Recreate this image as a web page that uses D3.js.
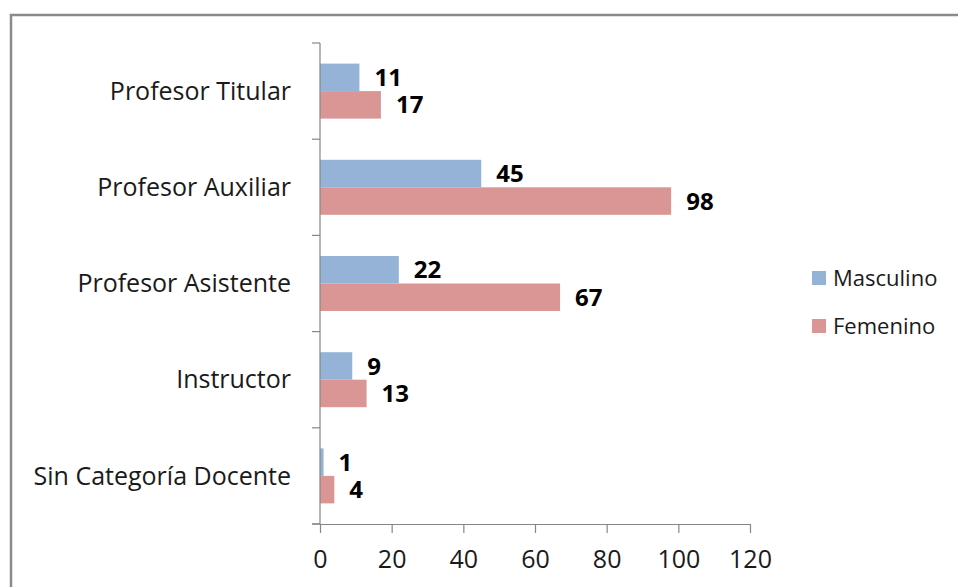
<!DOCTYPE html>
<html lang="es">
<head>
  <meta charset="UTF-8" />
  <title>Categoría docente por sexo</title>
  <script src="https://d3js.org/d3.v7.min.js"></script>
  <style>
    html, body {
      margin: 0;
      padding: 0;
      background: white;
      overflow: hidden;
      width: 958px;
      height: 587px;
    }
    svg { display: block; }
    text { font-family: "Open Sans", sans-serif; fill: #1a1a1a; }
  </style>
</head>
<body>
  <svg id="chart" width="958" height="587"></svg>

  <script>
    // data (top category first, as in the picture)
    const categories = ["Profesor Titular", "Profesor Auxiliar", "Profesor Asistente", "Instructor", "Sin Categoría Docente"];
    const masculino = [11, 45, 22, 9, 1];
    const femenino = [17, 98, 67, 13, 4];
    const seriesNames = ["Masculino", "Femenino"];
    const xTicks = [0, 20, 40, 60, 80, 100, 120];

    const colors = ["#95b3d7", "#d99694"];

    const svg = d3.select("#chart");

    // outer frame
    svg.append("rect")
      .attr("x", 11).attr("y", 15)
      .attr("width", 1000).attr("height", 700)
      .attr("fill", "white")
      .attr("stroke", "#8a8a8a")
      .attr("stroke-width", 2.5);

    const plotLeft = 320, plotRight = 750, plotTop = 43, plotBottom = 524;

    const x = d3.scaleLinear().domain([0, 120]).range([plotLeft, plotRight]);
    const y = d3.scaleBand().domain(categories).range([plotTop, plotBottom]);
    const inner = d3.scaleBand().domain(seriesNames)
      .range([y.bandwidth() / 2 - 27.5, y.bandwidth() / 2 + 27.5]);

    const rows = categories.map((c, i) => ({ cat: c, values: [masculino[i], femenino[i]] }));

    const g = svg.selectAll("g.cat")
      .data(rows)
      .enter().append("g")
      .attr("class", "cat")
      .attr("transform", d => `translate(0, ${y(d.cat)})`);

    g.selectAll("rect")
      .data(d => d.values.map((v, j) => ({ v, s: seriesNames[j], j })))
      .enter().append("rect")
      .attr("x", x(0))
      .attr("y", d => inner(d.s))
      .attr("width", d => x(d.v) - x(0))
      .attr("height", inner.bandwidth())
      .attr("fill", d => colors[d.j]);

    g.selectAll("text.value")
      .data(d => d.values.map((v, j) => ({ v, s: seriesNames[j], j })))
      .enter().append("text")
      .attr("class", "value")
      .attr("x", d => x(d.v) + 15)
      .attr("y", d => inner(d.s) + inner.bandwidth() / 2)
      .attr("dy", "0.36em")
      .style("font-size", "24px")
      .style("font-weight", "bold")
      .style("fill", "#000")
      .text(d => d.v);

    // y axis
    const yAxis = svg.append("g");
    yAxis.append("line")
      .attr("x1", plotLeft).attr("x2", plotLeft)
      .attr("y1", plotTop).attr("y2", plotBottom)
      .attr("stroke", "#868686").attr("stroke-width", 1.2);
    yAxis.selectAll("line.tick")
      .data(categories.concat([null]))
      .enter().append("line")
      .attr("class", "tick")
      .attr("x1", plotLeft - 8).attr("x2", plotLeft)
      .attr("y1", (d, i) => plotTop + i * y.step())
      .attr("y2", (d, i) => plotTop + i * y.step())
      .attr("stroke", "#868686").attr("stroke-width", 1.2);
    yAxis.selectAll("text")
      .data(categories)
      .enter().append("text")
      .attr("x", plotLeft - 29)
      .attr("y", d => y(d) + y.bandwidth() / 2)
      .attr("dy", "0.35em")
      .attr("text-anchor", "end")
      .style("font-size", "25px")
      .text(d => d);

    // x axis
    const xAxis = d3.axisBottom(x).tickValues(xTicks).tickSize(9).tickSizeOuter(0).tickPadding(17);
    const xg = svg.append("g")
      .attr("transform", `translate(0, ${plotBottom})`)
      .call(xAxis);
    xg.select(".domain").attr("stroke", "#868686").attr("stroke-width", 1.2);
    xg.selectAll(".tick line").attr("stroke", "#868686").attr("stroke-width", 1.2);
    xg.selectAll(".tick text")
      .style("font-family", "'Open Sans', sans-serif")
      .style("font-size", "25px")
      .attr("fill", "#1a1a1a");
    xg.append("line")
      .attr("x1", plotLeft - 8).attr("x2", plotLeft)
      .attr("stroke", "#868686").attr("stroke-width", 1.2);

    // legend
    const legend = svg.append("g").attr("transform", "translate(812, 271)");
    seriesNames.forEach((s, i) => {
      const lg = legend.append("g").attr("transform", `translate(0, ${i * 48})`);
      lg.append("rect").attr("width", 14).attr("height", 14).attr("fill", colors[i]);
      lg.append("text")
        .attr("x", 21).attr("y", 7).attr("dy", "0.35em")
        .style("font-size", "22px")
        .text(s);
    });
  </script>
</body>
</html>
